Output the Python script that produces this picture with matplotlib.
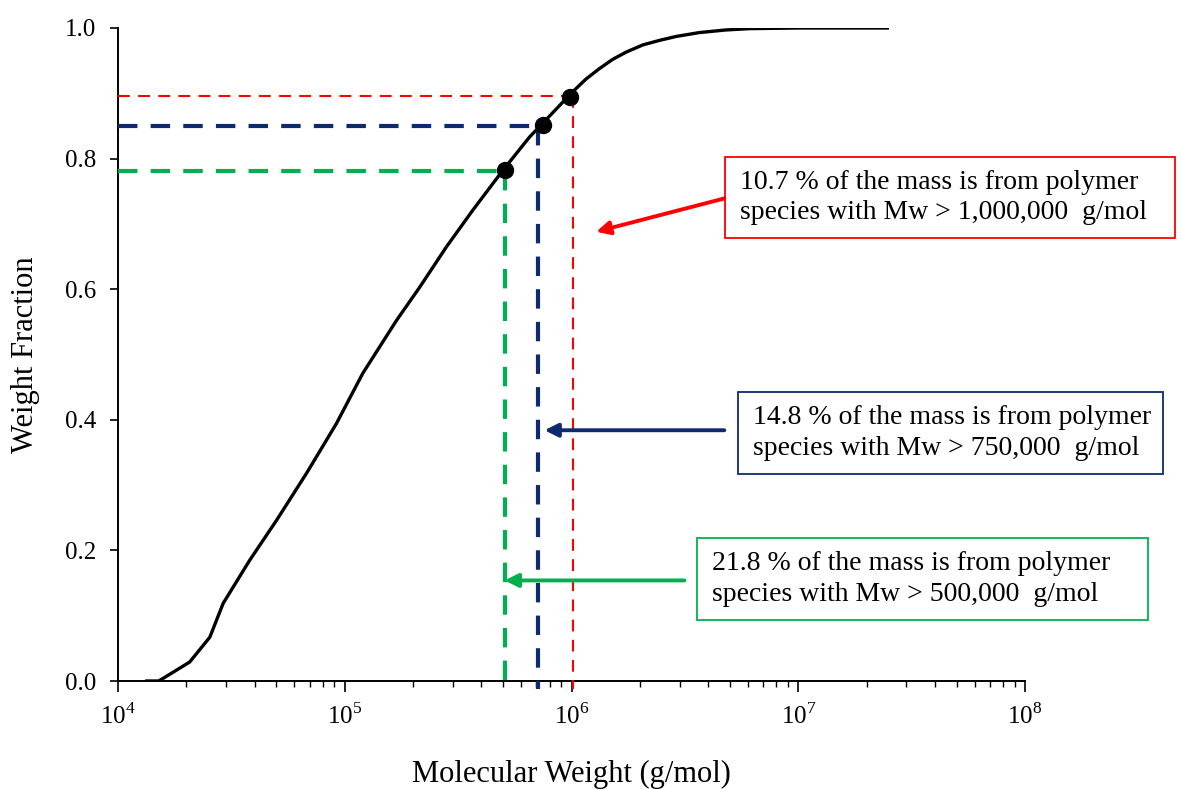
# Weight fraction vs molecular weight (cumulative distribution)
import numpy as np
import matplotlib.pyplot as plt
from matplotlib.patches import Rectangle

plt.rcParams['font.family'] = ['Liberation Serif', 'DejaVu Serif']
plt.rcParams['mathtext.fontset'] = 'custom'
plt.rcParams['mathtext.rm'] = 'Liberation Serif'
plt.rcParams['lines.scale_dashes'] = False

# ------------------------------------------------------------------------------
# DATA
# ------------------------------------------------------------------------------
mw = [1.34e4, 1.51e4, 1.58e4, 2.07e4, 2.54e4, 2.91e4, 3.81e4, 5.00e4, 6.78e4,
      9.18e4, 1.20e5, 1.69e5, 2.14e5, 2.81e5, 3.67e5, 4.98e5, 6.53e5, 1.01e6,
      1.16e6, 1.33e6, 1.52e6, 1.74e6, 2.06e6, 2.44e6, 2.89e6, 3.66e6, 4.80e6,
      6.08e6, 1.00e7, 2.47e7]
wf = [0.000, 0.000, 0.004, 0.029, 0.067, 0.119, 0.185, 0.246, 0.318,
      0.394, 0.471, 0.552, 0.603, 0.665, 0.721, 0.782, 0.833, 0.902,
      0.922, 0.938, 0.952, 0.963, 0.974, 0.981, 0.987, 0.993, 0.997,
      0.999, 1.000, 1.000]

# cut-off points: (Mw at the point, weight fraction, Mw of the vertical line)
pt_mw = [5.07e5, 7.45e5, 9.86e5]
pt_wf = [0.782, 0.852, 0.895]
cut_mw = [5.07e5, 7.13e5, 1.02e6]
cut_wf = [0.781, 0.8495, 0.8954]
cut_colors = ['#00B050', '#0E2A6E', '#FF0000']
cut_lw = [3.0, 3.0, 1.5]
cut_dash = [(14, 9.5), (14, 9.5), (8.5, 6)]

notes = ['21.8 % of the mass is from polymer\nspecies with Mw > 500,000  g/mol',
         '14.8 % of the mass is from polymer\nspecies with Mw > 750,000  g/mol',
         '10.7 % of the mass is from polymer\nspecies with Mw > 1,000,000  g/mol']

# ------------------------------------------------------------------------------
# PLOT
# ------------------------------------------------------------------------------
W, H = 1182, 789
fig = plt.figure(figsize=(W / 100, H / 100), dpi=100)
ax = fig.add_axes([118 / W, (H - 681) / H, (1025 - 118) / W, (681 - 28) / H])

ax.plot(mw, wf, color='black', lw=2.4, zorder=5, solid_joinstyle='round')

for i in range(3):
    c = cut_colors[i]
    ax.plot([1e4, cut_mw[i]], [cut_wf[i], cut_wf[i]], color=c, lw=cut_lw[i],
            dashes=cut_dash[i], zorder=3)
    ax.plot([cut_mw[i], cut_mw[i]], [cut_wf[i], -0.012], color=c, lw=cut_lw[i],
            dashes=cut_dash[i], zorder=3, clip_on=False)

ax.plot(pt_mw, pt_wf, 'o', color='black', ms=11.5, zorder=6)

ax.set_xscale('log')
ax.set_xlim(1e4, 1e8)
ax.set_ylim(0, 1.0)
ax.set_yticks(np.arange(0, 1.01, 0.2))
ax.set_yticklabels(['%.1f' % v for v in np.arange(0, 1.01, 0.2)])
ax.set_xticks([1e4, 1e5, 1e6, 1e7, 1e8])
ax.set_xticklabels(['10$^{4}$', '10$^{5}$', '10$^{6}$', '10$^{7}$', '10$^{8}$'])

for s in ['top', 'right']:
    ax.spines[s].set_visible(False)
for s in ['left', 'bottom']:
    ax.spines[s].set_linewidth(1.4)
ax.tick_params(axis='x', which='major', length=8, width=1.2, pad=8, labelsize=18)
ax.tick_params(axis='x', which='minor', length=4.5, width=1.0)
ax.tick_params(axis='y', which='major', length=6, width=1.2, pad=10, labelsize=18)
ax.set_xlabel('Molecular Weight (g/mol)', fontsize=22, labelpad=22)
ax.set_ylabel('Weight Fraction', fontsize=22, labelpad=18)

# arrows pointing at the cut-off lines
arrow_tail = [(3.15e6, 0.154), (4.72e6, 0.384), (4.72e6, 0.739)]
arrow_tip = [(5.07e5, 0.154), (7.6e5, 0.384), (1.285e6, 0.688)]
for i in range(3):
    ax.annotate('', xy=arrow_tip[i], xytext=arrow_tail[i],
                arrowprops=dict(arrowstyle='-|>', color=cut_colors[i], lw=2.8,
                                mutation_scale=20, shrinkA=0, shrinkB=0))

# text boxes (pixel extents: left, top, right, bottom)
boxes = [(697, 538, 1148, 620), (738, 392, 1163, 474), (725, 157, 1175, 238)]
for i in range(3):
    x0, y0, x1, y1 = boxes[i]
    fig.add_artist(Rectangle((x0 / W, 1 - y1 / H), (x1 - x0) / W, (y1 - y0) / H,
                             transform=fig.transFigure, fill=False,
                             edgecolor=cut_colors[i], lw=1.3))
    fig.text((x0 + 15) / W, 1 - (y0 + y1) / 2 / H, notes[i], fontsize=20,
             ha='left', va='center', linespacing=1.3)

fig.savefig('out.png', dpi=100)
